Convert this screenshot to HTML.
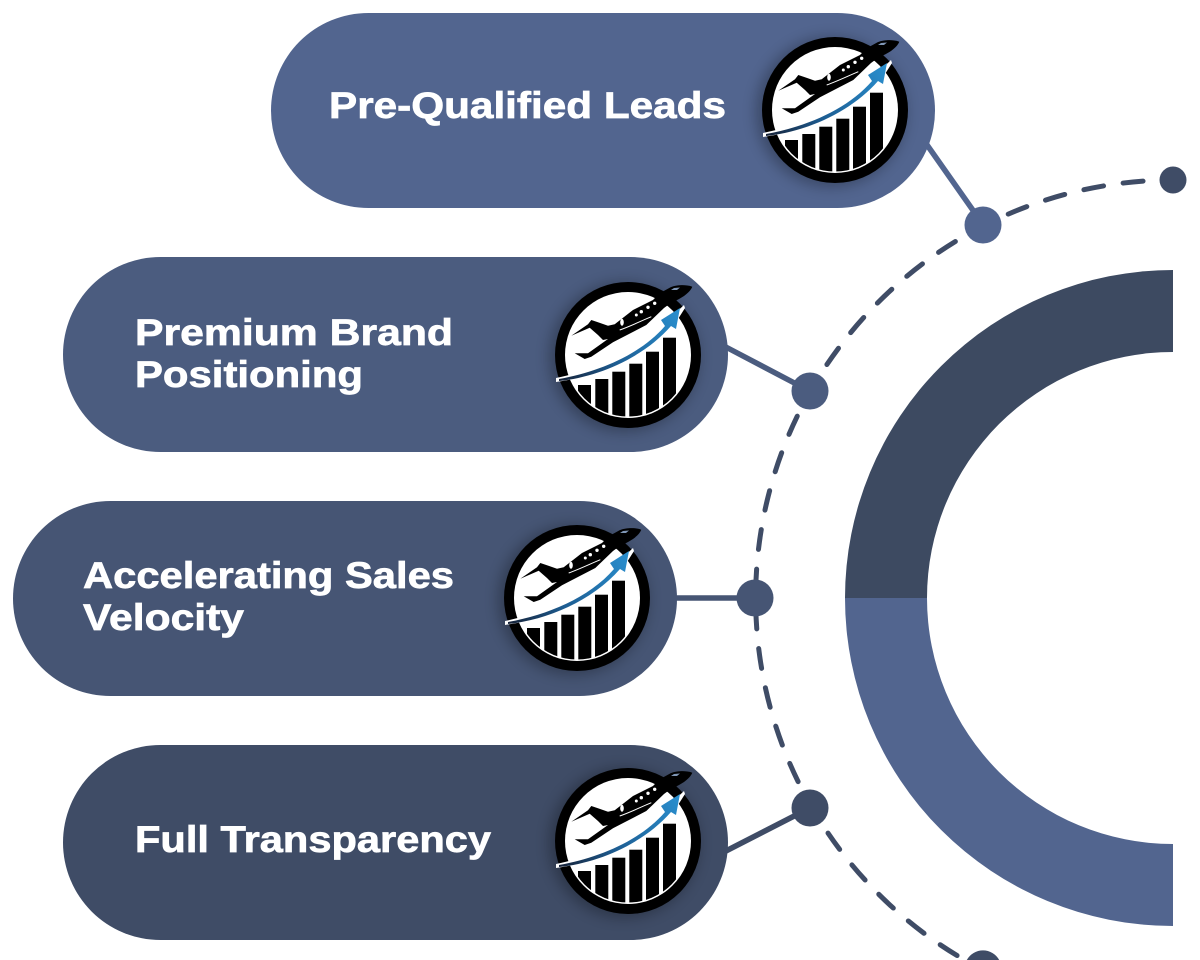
<!DOCTYPE html>
<html>
<head>
<meta charset="utf-8">
<title>Diagram</title>
<style>
html,body{margin:0;padding:0;background:#fff;width:1200px;height:960px;overflow:hidden}
svg{display:block}
text{font-family:"Liberation Sans",sans-serif;font-weight:700;font-size:37px;fill:#fff;stroke:#fff;stroke-width:.7px}
</style>
</head>
<body>
<svg width="1200" height="960" viewBox="0 0 1200 960" xmlns="http://www.w3.org/2000/svg">
<defs>
<filter id="sh" x="-30%" y="-30%" width="160%" height="160%"><feGaussianBlur stdDeviation="7"/></filter>
<clipPath id="inner"><circle cx="0" cy="0" r="61.5"/></clipPath>
<linearGradient id="sw" x1="-68" y1="24" x2="52" y2="-47" gradientUnits="userSpaceOnUse">
<stop offset="0" stop-color="#16233a"/><stop offset=".4" stop-color="#1d5d92"/><stop offset="1" stop-color="#2a90d0"/>
</linearGradient>
<g id="logo">
<circle cx="-4" cy="2" r="75" fill="#000" opacity=".28" filter="url(#sh)"/>
<circle r="73" fill="#000"/>
<circle r="63" fill="#fff"/>
<g clip-path="url(#inner)" fill="#000">
<rect x="-50" y="30" width="13" height="40"/>
<rect x="-32.7" y="24" width="13" height="46"/>
<rect x="-15.7" y="16.7" width="13" height="54"/>
<rect x="1.3" y="8.7" width="13" height="62"/>
<rect x="18" y="-3.3" width="13" height="74"/>
<rect x="35" y="-17.3" width="13" height="88"/>
</g>
<path d="M-72 23 C-30 14 12 -2 38 -33 L56 -50 L57 -47 L45 -28 C15 5 -30 21 -72 27Z" fill="#fff"/>
<path d="M-69 24 C-30 17 12 0 37 -29 L33 -35 L52 -47 L48 -26 L43 -29 C15 3 -30 22 -69 26Z" fill="url(#sw)"/>
<path d="M64.3 -68.3 C60 -70 55 -70 51.7 -69.8 C47 -69.5 44 -68.5 41.7 -67.3 L31.7 -61.7 L25 -55 L5 -45 L-13.3 -30.7 L-20 -29.3 L-30 -32.7 L-36.7 -35 L-40 -30.7 L-56.7 -19.3 L-38.3 -27.3 L-30 -20 L-25 -15 L-20 -16 L-40 -1.7 L-53.3 -1.7 L-43.3 4 L-36.7 1.7 L-15 -12.7 L18.3 -30 L36 -47 C44 -53 50 -55 56 -59 C60 -62 63 -65 64.3 -68.3Z" fill="#000"/>
<path d="M52 -67.5 L46 -67 L43 -65 L49 -65Z" fill="#7f96b5"/>
<g fill="#fff"><circle cx="26.7" cy="-51.7" r="1.7"/><circle cx="20" cy="-47.7" r="1.7"/><circle cx="13.3" cy="-43.3" r="1.7"/><circle cx="8.3" cy="-40" r="1.5"/><ellipse cx="-6" cy="-32.7" rx="1.8" ry="3.5"/></g>
<path d="M-8.3 -25 C3 -29 13 -34 23.3 -38.3" stroke="#fff" stroke-width="1" fill="none"/>
</g>
</defs>

<!-- ring -->
<path d="M1173 270 A328 328 0 0 0 845 598 L927 598 A246 246 0 0 1 1173 352Z" fill="#3d4a61"/>
<path d="M845 598 A328 328 0 0 0 1173 926 L1173 844 A246 246 0 0 1 927 598Z" fill="#52658f"/>

<!-- dashed arc -->
<path d="M1173 180 A418 418 0 0 0 983 970" fill="none" stroke="#3f4c66" stroke-width="5" stroke-linecap="round" stroke-dasharray="20 19.8" stroke-dashoffset="-30"/>

<!-- connectors -->
<line x1="925" y1="142" x2="977" y2="216" stroke="#52658f" stroke-width="5.5"/>
<line x1="722" y1="345" x2="802" y2="387" stroke="#4b5c7f" stroke-width="5.5"/>
<line x1="672" y1="598" x2="745" y2="598" stroke="#465574" stroke-width="5.5"/>
<line x1="722" y1="853" x2="802" y2="812" stroke="#3f4c66" stroke-width="5.5"/>

<!-- dots -->
<circle cx="1173" cy="180" r="13.5" fill="#3f4c66"/>
<circle cx="983" cy="225" r="18.5" fill="#52658f"/>
<circle cx="810" cy="391" r="18.5" fill="#4b5c7f"/>
<circle cx="755" cy="598" r="18.5" fill="#465574"/>
<circle cx="810" cy="808" r="18.5" fill="#3f4c66"/>
<path d="M966.8 960 A18.5 18.5 0 0 1 999.2 960Z" fill="#3f4c66"/>

<!-- pills -->
<rect x="271" y="13" width="664" height="195" rx="97.5" fill="#52658f"/>
<rect x="63" y="257" width="665" height="195" rx="97.5" fill="#4b5c7f"/>
<rect x="13" y="501" width="664" height="195" rx="97.5" fill="#465574"/>
<rect x="63" y="745" width="665" height="195" rx="97.5" fill="#3f4c66"/>

<!-- logos -->
<use href="#logo" x="835" y="110"/>
<use href="#logo" x="628" y="355"/>
<use href="#logo" x="577" y="598"/>
<use href="#logo" x="628" y="841"/>

<!-- labels -->
<text x="329" y="118" textLength="397" lengthAdjust="spacingAndGlyphs">Pre-Qualified Leads</text>
<text x="135" y="345" textLength="318" lengthAdjust="spacingAndGlyphs">Premium Brand</text>
<text x="135" y="387" textLength="228" lengthAdjust="spacingAndGlyphs">Positioning</text>
<text x="83" y="588" textLength="371" lengthAdjust="spacingAndGlyphs">Accelerating Sales</text>
<text x="83" y="630" textLength="161" lengthAdjust="spacingAndGlyphs">Velocity</text>
<text x="135" y="852" textLength="356" lengthAdjust="spacingAndGlyphs">Full Transparency</text>
</svg>
</body>
</html>
